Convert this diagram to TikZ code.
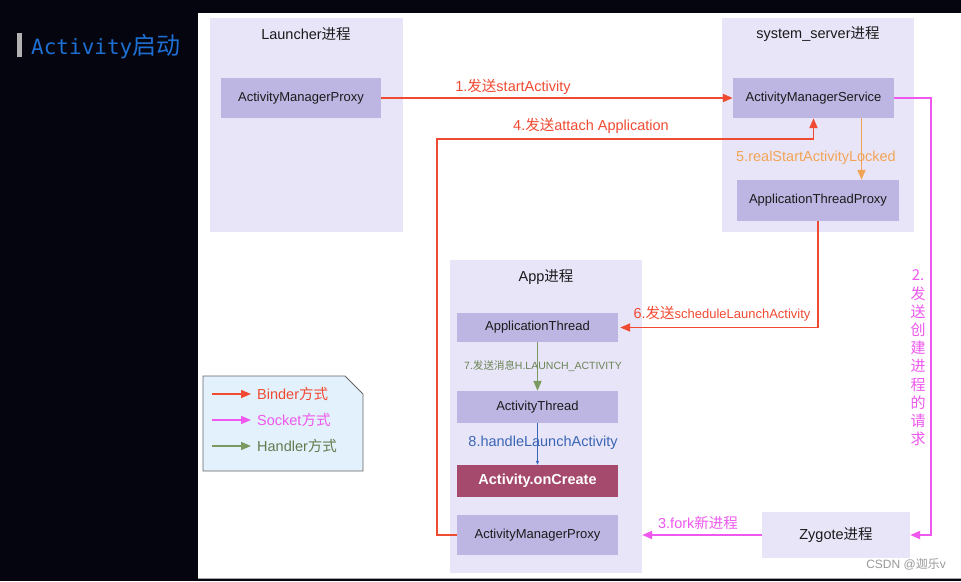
\documentclass[tikz,border=0pt]{standalone}
\usepackage{fontspec}
\setmainfont{Liberation Sans}
\newfontfamily\cjk{Noto Sans CJK SC}
\newfontfamily\monof{DejaVu Sans Mono}
\usetikzlibrary{arrows.meta}
\definecolor{darkbg}{HTML}{05050F}
\definecolor{grpfill}{HTML}{E9E5F9}
\definecolor{boxfill}{HTML}{BDB6E3}
\definecolor{binderc}{HTML}{F04A32}
\definecolor{socketc}{HTML}{EE58EE}
\definecolor{orangec}{HTML}{F2A455}
\definecolor{handlerc}{HTML}{7B9A60}
\definecolor{bluec}{HTML}{3A66B4}
\definecolor{createc}{HTML}{A54A6C}
\definecolor{txtc}{HTML}{1A1A1A}
\definecolor{titlec}{HTML}{1E6FD2}
\definecolor{legfill}{HTML}{E3F1FC}
\tikzset{
  grp/.style={rectangle, fill=grpfill, draw=none, inner sep=0pt},
  pbox/.style={rectangle, fill=boxfill, draw=none, inner sep=0pt, minimum width=161pt, text=txtc, font=\fontsize{13}{15}\selectfont},
  gtitle/.style={text=txtc, font=\fontsize{14.5}{16}\selectfont, inner sep=0pt},
  tip/.style={-{Triangle[length=10pt,width=8pt]}},
  binder/.style={tip, draw=binderc, line width=1.9pt},
  socket/.style={tip, draw=socketc, line width=1.9pt},
  handler/.style={tip, draw=handlerc, line width=1.9pt},
  lbl/.style={inner sep=0pt, font=\fontsize{14.5}{16}\selectfont},
}
\begin{document}
\begin{tikzpicture}[x=1pt,y=-1pt]
\useasboundingbox (0,0) rectangle (961,581);
% background
\fill[darkbg] (0,0) rectangle (961,581);
\fill[white] (198,13) rectangle (961,578);
\draw[gray!70, line width=1pt] (198,578) -- (961,578);
% title
\fill[gray!60] (17,33) rectangle (22,57);
\node[anchor=west, inner sep=0pt, text=titlec] (title) at (31,47) {\monof\fontsize{21}{23}\selectfont Activity{\cjk\fontsize{24}{26}\selectfont 启动}};
% groups
\node[grp, minimum width=193pt, minimum height=214pt] (grpL) at (306.5,125) {};
\node[grp, minimum width=192pt, minimum height=214pt] (grpS) at (818,125) {};
\node[grp, minimum width=192pt, minimum height=313pt] (grpA) at (546,416.5) {};
\node[grp, minimum width=148pt, minimum height=46pt, text=txtc, font=\fontsize{14.5}{16}\selectfont] (zyg) at (836,535) {Zygote{\cjk 进程}};
\node[gtitle] (tL) at (306,34) {Launcher{\cjk 进程}};
\node[gtitle] (tS) at (818,34) {system\_server{\cjk 进程}};
\node[gtitle] (tA) at (546,277) {App{\cjk 进程}};
% boxes
\node[pbox, minimum width=160pt, minimum height=40pt] (ampL) at (301,98) {ActivityManagerProxy};
\node[pbox, minimum height=40pt] (ams) at (813.5,98) {ActivityManagerService};
\node[pbox, minimum width=162pt, minimum height=41pt] (atp) at (818,200.5) {ApplicationThreadProxy};
\node[pbox, minimum height=29pt] (at) at (537.5,327.5) {ApplicationThread};
\node[pbox, minimum height=32pt] (actt) at (537.5,407) {ActivityThread};
\node[pbox, fill=createc, text=white, minimum height=32pt, font=\bfseries\fontsize{14.5}{16}\selectfont] (onc) at (537.5,481) {Activity.onCreate};
\node[pbox, minimum height=40pt] (ampA) at (537.5,535) {ActivityManagerProxy};
% connectors
\draw[binder] (ampL.east) -- (ams.west);
\node[lbl, text=binderc] (l1) at (513,87) {1.{\cjk 发送}startActivity};
\coordinate (c4) at (437,139);
\draw[binder] (ampA.west) -| (c4) -| (ams.south);
\node[lbl, text=binderc] (l4) at (591,126) {4.{\cjk 发送}attach Application};
\draw[tip, draw=orangec, line width=1.9pt] ([xshift=48pt]ams.south) -- ([xshift=48pt]ams.south |- atp.north);
\node[lbl, text=orangec] (l5) at (816,158) {5.realStartActivityLocked};
\draw[binder] (atp.south) |- ([xshift=2pt]at.east);
\node[lbl, text=binderc] (l6) at (722,314) {6.{\cjk 发送}{\fontsize{13}{15}\selectfont scheduleLaunchActivity}};
\coordinate (c2) at (931,300);
\draw[socket] (ams.east) -| (c2) |- (zyg.east);
\node[text=socketc, align=center, inner sep=0pt, font=\cjk\fontsize{15}{18.2}\selectfont] (l2) at (918,358) {2.\\发\\送\\创\\建\\进\\程\\的\\请\\求};
\draw[socket] (zyg.west) -- (grpA.east |- zyg.west);
\node[lbl, text=socketc] (l3) at (698,523) {3.fork{\cjk 新进程}};
\draw[handler] (at.south) -- (actt.north);
\node[inner sep=0pt, text=handlerc!85!black, font=\fontsize{10.5}{12}\selectfont] (l7) at (543,366) {7.{\cjk 发送消息}H.LAUNCH\_ACTIVITY};
\draw[-{Triangle[length=4pt,width=3pt]}, draw=bluec, line width=0.8pt] (actt.south) -- (onc.north);
\node[lbl, text=bluec] (l8) at (543,443) {8.handleLaunchActivity};
% legend
\filldraw[fill=legfill, draw=gray!80!black, line width=0.8pt] (203,376) -- (345,376) -- (363,394) -- (363,471) -- (203,471) -- cycle;
\node[lbl, anchor=west, text=binderc] (lg1) at (257,394) {Binder{\cjk 方式}};
\node[lbl, anchor=west, text=socketc] (lg2) at (257,420) {Socket{\cjk 方式}};
\node[lbl, anchor=west, text=handlerc!80!black] (lg3) at (257,446) {Handler{\cjk 方式}};
\coordinate (s1) at (212,394);
\coordinate (s2) at (212,420);
\coordinate (s3) at (212,446);
\draw[binder, line width=1.6pt] (s1) -- ([xshift=-6pt]lg1.west);
\draw[socket, line width=1.6pt] (s2) -- ([xshift=-6pt]lg2.west);
\draw[handler, line width=1.6pt] (s3) -- ([xshift=-6pt]lg3.west);
% watermark
\node[inner sep=0pt, text=gray!80, font=\fontsize{12}{14}\selectfont] (wm) at (906,564) {CSDN @{\cjk 迦乐}v};
\end{tikzpicture}
\end{document}
